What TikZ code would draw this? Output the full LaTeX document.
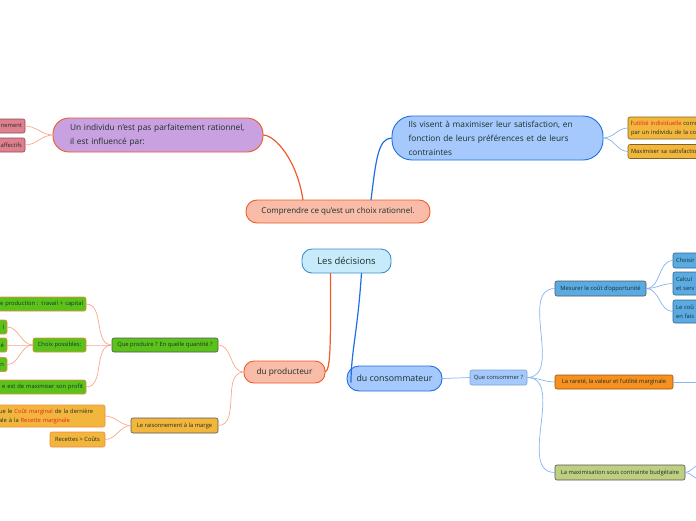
\documentclass[tikz,border=0pt]{standalone}
\usepackage{fontspec}
\setmainfont{Open Sans}
\definecolor{txt}{HTML}{1B2E28}
\definecolor{redt}{HTML}{E8202A}
\definecolor{orline}{HTML}{F05A28}
\definecolor{blline}{HTML}{1D6FE0}
\definecolor{salm}{HTML}{F8A88C}
\definecolor{lblue}{HTML}{86B4F0}
\definecolor{rootfill}{HTML}{C7EBFA}
\definecolor{rootdraw}{HTML}{3B8FD2}
\definecolor{salfill}{HTML}{F9BCA8}
\definecolor{lavfill}{HTML}{C9A1E0}
\definecolor{bluefill}{HTML}{A5C9FD}
\definecolor{greenfill}{HTML}{5BC21C}
\definecolor{orfill}{HTML}{F2B63C}
\definecolor{skyfill}{HTML}{5AABE3}
\definecolor{rarfill}{HTML}{F7901E}
\definecolor{olivefill}{HTML}{BFCF82}
\definecolor{pinkfill}{HTML}{E0808E}
\definecolor{darkbd}{HTML}{555555}
\definecolor{orbd}{HTML}{F08A40}
\begin{document}
\begin{tikzpicture}[x=1pt,y=-1pt,
  every node/.style={text=txt, inner sep=0pt, outer sep=0pt},
  bigbox/.style={line width=0.9pt, font=\fontsize{8.3}{14}\selectfont, align=center},
  smallbox/.style={line width=0.6pt, rounded corners=2pt, font=\fontsize{5.8}{9}\selectfont, minimum height=14pt, inner xsep=3pt},
  mainlink/.style={line width=1.2pt},
  sublinkO/.style={draw=salm, line width=0.7pt},
  sublinkB/.style={draw=lblue, line width=0.7pt},
  leftcut/.style={smallbox, anchor=east, text width=#1, align=right},
  rightcut/.style={smallbox, anchor=west, text width=#1, align=left}]
\useasboundingbox (0,0) rectangle (696,520);
\clip (0,0) rectangle (696,520);

% main nodes
\node[bigbox, draw=rootdraw, fill=rootfill, rounded corners=10pt, minimum width=89pt, minimum height=24pt, font=\fontsize{9.5}{12}\selectfont] (root) at (346.5,261) {Les décisions};
\node[bigbox, draw=orline, fill=salfill, rounded corners=11pt, minimum width=184pt, minimum height=23pt, font=\fontsize{8.0}{12}\selectfont] (compr) at (338,211.5) {Comprendre ce qu'est un choix rationnel.};
\node[bigbox, draw=orline, fill=lavfill, rounded corners=16pt, minimum width=210pt, minimum height=34pt, text width=176pt, align=left] (indiv) at (158,135) {Un individu n'est pas parfaitement rationnel,\\il est influencé par:};
\node[bigbox, draw=blline, fill=bluefill, rounded corners=20pt, minimum width=211pt, minimum height=44pt, text width=178pt, align=left] (ils) at (497.5,138) {Ils visent à maximiser leur satisfaction, en\\fonction de leurs préférences et de leurs\\contraintes};
\node[bigbox, draw=orline, fill=salfill, rounded corners=10pt, minimum width=81pt, minimum height=22pt] (prod) at (284.5,372) {du producteur};
\node[bigbox, draw=blline, fill=bluefill, rounded corners=12pt, minimum width=95pt, minimum height=25pt, font=\fontsize{8.8}{12}\selectfont] (cons) at (394.5,378.5) {du consommateur};

% left top small
\node[leftcut=100pt, draw=pinkfill!60!black, fill=pinkfill] (pink1) at (25,126) {nement};
\node[leftcut=100pt, draw=pinkfill!60!black, fill=pinkfill] (pink2) at (25,145) {affectifs};

% right top small
\node[rightcut=120pt, draw=orfill!55!black, fill=orfill, minimum height=22pt] (util) at (628,128) {l\textcolor{redt}{'utilité individuelle} correspond\\par un individu de la consommation};
\node[rightcut=120pt, draw=orfill!55!black, fill=orfill] (maxsat) at (628,151.5) {Maximiser sa satisfaction};

% producer side
\node[smallbox, draw=darkbd, fill=greenfill, minimum width=106pt] (queprod) at (165,345) {Que produire ? En quelle quantité ?};
\node[smallbox, draw=orbd, fill=greenfill, minimum width=53pt] (choix) at (59.5,345) {Choix possibles:};
\node[leftcut=130pt, draw=orbd, fill=greenfill] (fact) at (86,304) {e production : travail + capital};
\node[leftcut=40pt, draw=orbd, fill=greenfill] (g1) at (7,327) {l};
\node[leftcut=40pt, draw=orbd, fill=greenfill] (g2) at (7,345) {é};
\node[leftcut=40pt, draw=orbd, fill=greenfill] (g3) at (7,364.5) {n};
\node[leftcut=130pt, draw=orbd, fill=greenfill] (profit) at (86,387) {e est de maximiser son profit};
\node[smallbox, draw=darkbd, fill=orfill, minimum width=87pt, minimum height=15pt] (raison) at (174.5,425.5) {Le raisonnement à la marge};
\node[smallbox, anchor=west, text width=103pt, align=left, draw=orbd, fill=orfill, minimum height=22pt] (coutm) at (-4,416) {ue le \textcolor{redt}{Coût marginal} de la dernière\\ale à la \textcolor{redt}{Recette marginale}};
\node[smallbox, draw=orbd, fill=orfill, minimum width=55pt, minimum height=15pt] (recet) at (77.5,439.5) {Recettes > Coûts};

% consumer side
\node[smallbox, draw=lblue!90!black, fill=bluefill, minimum width=57pt, minimum height=15pt] (quecons) at (498.5,377.5) {Que consommer ?};
\node[smallbox, draw=darkbd, fill=skyfill, minimum width=91pt, minimum height=15pt] (mesurer) at (600.5,288.5) {Mesurer le coût d'opportunité};
\node[smallbox, draw=rarfill!60!black, fill=rarfill, minimum width=118pt] (rarete) at (614,382) {La rareté, la valeur et l'utilité marginale};
\node[smallbox, draw=darkbd, fill=olivefill, minimum width=130pt, minimum height=15pt] (maxim) at (620,472.5) {La maximisation sous contrainte budgétaire};
\node[rightcut=60pt, draw=skyfill!60!black, fill=skyfill, minimum height=15pt] (choisir) at (673,260.5) {Choisir};
\node[rightcut=60pt, draw=skyfill!60!black, fill=skyfill, minimum height=23pt] (calcul) at (673,283.5) {Calcul\\et serv};
\node[rightcut=60pt, draw=skyfill!60!black, fill=skyfill, minimum height=23pt] (lecout) at (673,311.5) {Le coû\\en fais};

\coordinate (rEnd) at (700,382);
\coordinate (mEnd1) at (700,465);
\coordinate (mEnd2) at (700,479);

% main links
\draw[mainlink, draw=orline] ([xshift=-16pt]root.south) .. controls +(0,70) and +(6,-2) .. (prod.east);
\draw[mainlink, draw=blline] ([xshift=15pt]root.south) .. controls +(-4,60) and +(0,-30) .. ([xshift=4pt,yshift=-4pt]cons.west);
\draw[mainlink, draw=orline] ([xshift=-35pt]compr.north) .. controls +(-6,-40) and +(12,0) .. (indiv.east);
\draw[mainlink, draw=blline] ([xshift=33pt]compr.north) .. controls +(5,-40) and +(-14,0) .. (ils.west);

% sub links
\draw[sublinkO] (indiv.west) to[out=180,in=0] (pink1.east);
\draw[sublinkO] (indiv.west) to[out=180,in=0] (pink2.east);
\draw[sublinkO] (prod.west) to[out=180,in=0] (queprod.east);
\draw[sublinkO] (prod.west) to[out=180,in=0] (raison.east);
\draw[sublinkO] (queprod.west) to[out=180,in=0] (fact.east);
\draw[sublinkO] (queprod.west) to[out=180,in=0] (choix.east);
\draw[sublinkO] (queprod.west) to[out=180,in=0] (profit.east);
\draw[sublinkO] (choix.west) to[out=180,in=0] (g1.east);
\draw[sublinkO] (choix.west) to[out=180,in=0] (g2.east);
\draw[sublinkO] (choix.west) to[out=180,in=0] (g3.east);
\draw[sublinkO] (raison.west) to[out=180,in=0] (coutm.east);
\draw[sublinkO] (raison.west) to[out=180,in=0] (recet.east);
\draw[sublinkB] (ils.east) to[out=0,in=180] (util.west);
\draw[sublinkB] (ils.east) to[out=0,in=180] (maxsat.west);
\draw[sublinkB] (cons.east) -- (quecons.west);
\draw[sublinkB] (quecons.east) to[out=0,in=180] (mesurer.west);
\draw[sublinkB] (quecons.east) to[out=0,in=180] (rarete.west);
\draw[sublinkB] (quecons.east) to[out=0,in=180] (maxim.west);
\draw[sublinkB] (mesurer.east) to[out=0,in=180] (choisir.west);
\draw[sublinkB] (mesurer.east) to[out=0,in=180] (calcul.west);
\draw[sublinkB] (mesurer.east) to[out=0,in=180] (lecout.west);
\draw[sublinkB] (rarete.east) -- (rEnd);
\draw[sublinkB] (maxim.east) to[out=0,in=180] (mEnd1);
\draw[sublinkB] (maxim.east) to[out=0,in=180] (mEnd2);
\end{tikzpicture}
\end{document}
